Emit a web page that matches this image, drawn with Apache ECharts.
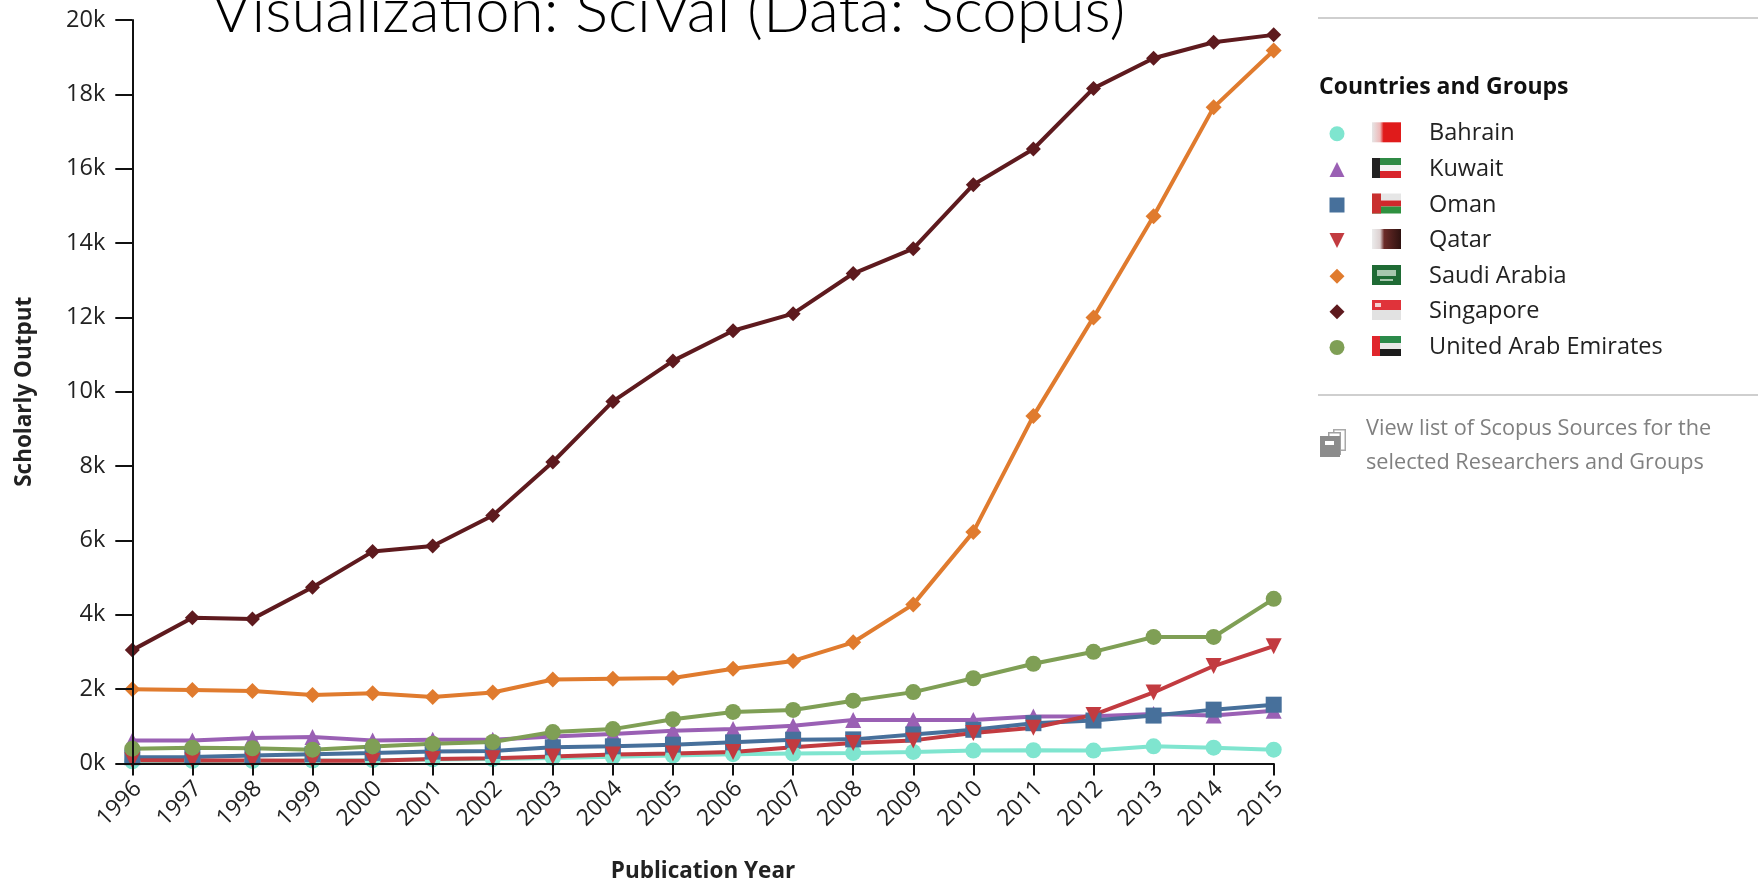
<!DOCTYPE html>
<html><head><meta charset="utf-8">
<style>html,body{margin:0;padding:0;background:#fff}#c{width:1758px;height:880px}</style>
<script src="https://cdn.jsdelivr.net/npm/echarts@6/dist/echarts.min.js"></script>
</head><body><div id="c"></div>
<script>
const years=['1996','1997','1998','1999','2000','2001','2002','2003','2004','2005','2006','2007','2008','2009','2010','2011','2012','2013','2014','2015'];
const bahrain=[60,70,70,80,90,110,120,150,180,215,250,267,284,311,347,356,347,462,427,373];
const kuwait=[622,622,684,711,622,640,640,729,791,880,925,1013,1173,1173,1173,1262,1271,1333,1289,1422];
const oman=[169,178,213,249,284,320,338,436,462,507,569,640,649,782,907,1084,1156,1289,1449,1582];
const qatar=[89,80,80,71,71,124,142,187,240,267,311,436,551,622,818,960,1307,1911,2622,3156];
const saudiArabia=[2000,1980,1950,1840,1890,1790,1910,2260,2280,2300,2550,2760,3260,4280,6230,9350,12000,14720,17650,19180];
const singapore=[3050,3920,3890,4740,5700,5850,6670,8110,9740,10830,11640,12100,13180,13850,15570,16530,18160,18970,19400,19600];
const uae=[400,427,410,373,460,533,578,845,925,1190,1387,1440,1690,1920,2293,2684,3004,3404,3404,4430];
const titleText='Visualization: SciVal (Data: Scopus)';
const F='"Open Sans"';
const defs=[
 ['Bahrain',bahrain,'#7fe5cf','circle',16],
 ['Kuwait',kuwait,'#9a60b4','triangle',16],
 ['Oman',oman,'#47709b','rect',16],
 ['Qatar',qatar,'#c23b40','path://M0,0 L10,0 L5,10 Z',16],
 ['Saudi Arabia',saudiArabia,'#e07b2e','diamond',16],
 ['Singapore',singapore,'#5e1a1e','diamond',15],
 ['United Arab Emirates',uae,'#7f9f55','circle',16]
];
const chart=echarts.init(document.getElementById('c'),null,{renderer:'canvas'});
const fx=1372,fw=29,fh=20;
function r(x,y,w,h,fill){return {type:'rect',silent:true,z:10,shape:{x,y,width:w,height:h},style:{fill}};}
const grad=(...s)=>new echarts.graphic.LinearGradient(0,0,1,0,s.map((c,i)=>({offset:c[0],color:c[1]})));
const rows=[132.3,168,203.5,239,275,310,346].map(v=>v-10);
const flags=[
 r(fx,rows[0],fw,fh,grad([0,'#e6e6e6'],[0.28,'#eeb8b8'],[0.4,'#e01b1b'],[1,'#e01b1b'])),
 r(fx,rows[1],fw,7,'#2f8a45'),r(fx,rows[1]+7,fw,6,'#f2f2f2'),r(fx,rows[1]+13,fw,7,'#d8242b'),r(fx,rows[1],8,fh,'#222'),
 r(fx,rows[2],fw,7,'#e6e6e6'),r(fx,rows[2]+7,fw,6,'#d0282c'),r(fx,rows[2]+13,fw,7,'#2f9140'),r(fx,rows[2],9,fh,'#c9302f'),
 r(fx,rows[3],fw,fh,grad([0,'#ececec'],[0.28,'#dcd0d0'],[0.42,'#6b2b28'],[1,'#2e1210'])),
 r(fx,rows[4],fw,fh,'#1f6b35'),r(fx+5,rows[4]+5,19,6,'#a7c7ae'),r(fx+8,rows[4]+14,13,2,'#a7c7ae'),
 r(fx,rows[5],fw,10,'#e0333a'),r(fx,rows[5]+10,fw,10,'#e2e2e2'),r(fx+3,rows[5]+3,6,4,'#f5d0d0'),
 r(fx,rows[6],fw,7,'#2b8a4a'),r(fx,rows[6]+7,fw,6,'#e8e8e8'),r(fx,rows[6]+13,fw,7,'#1c1c1c'),r(fx,rows[6],8,fh,'#e0262c')
];
const icon=[
 r(1333,429,13,22,'#a9a9a9'),r(1334.5,430.5,10,19,'#fff'),
 r(1328,432,13,23,'#a0a0a0'),r(1329.5,433.5,10,20,'#fff'),
 r(1320,436,20,21,'#8c8c8c'),r(1325,441,9,4,'#fff')
];
const line=y=>({type:'line',silent:true,shape:{x1:1318,y1:y,x2:1758,y2:y},style:{stroke:'#cfcfcf',lineWidth:2}});
const text=(x,y,t,size,weight,fill)=>({type:'text',silent:true,x,y,style:{text:t,font:`${weight} ${size}px ${F}`,fill,textVerticalAlign:'middle'}});
chart.setOption({
 animation:false,
 backgroundColor:'#fff',
 title:{text:titleText,left:211,top:-19,padding:0,textStyle:{fontFamily:'Lato',fontWeight:300,fontSize:61.7,color:'#000'}},
 grid:{left:132.3,top:20,width:1141.4,height:743.5,containLabel:false,outerBoundsMode:'none'},
 legend:{orient:'vertical',left:1329.5,top:121.8,padding:0,itemWidth:15,itemHeight:15,itemGap:11.6,selectedMode:false,
  textStyle:{fontFamily:F,fontSize:23.5,lineHeight:20,color:'#222',padding:[0,0,0,79.5]},
  data:defs.map(d=>({name:d[0],icon:d[3]}))},
 xAxis:{type:'category',data:years,boundaryGap:false,z:5,
  name:'Publication Year',nameLocation:'middle',nameGap:97,nameTextStyle:{fontFamily:F,fontWeight:'bold',fontSize:22.5,color:'#222'},
  axisLine:{lineStyle:{color:'#111',width:2}},axisTick:{alignWithLabel:true,length:12,lineStyle:{color:'#111',width:2}},
  axisLabel:{rotate:45,interval:0,margin:16,verticalAlign:'top',align:'right',lineHeight:16,fontFamily:F,fontSize:23,color:'#222'},splitLine:{show:false}},
 yAxis:{type:'value',min:0,max:20000,interval:2000,z:5,
  name:'Scholarly Output',nameLocation:'middle',nameGap:96.5,nameTextStyle:{fontFamily:F,fontWeight:'bold',fontSize:22.5,color:'#222'},
  axisLine:{show:true,lineStyle:{color:'#111',width:2}},axisTick:{show:true,length:17,lineStyle:{color:'#111',width:2}},
  axisLabel:{margin:27,fontFamily:F,fontSize:23.5,color:'#222',formatter:v=>(v/1000)+'k'},splitLine:{show:false}},
 series:defs.map(d=>({name:d[0],type:'line',data:d[1],symbol:d[3],symbolSize:d[4],showSymbol:true,clip:false,
  lineStyle:{color:d[2],width:4},itemStyle:{color:d[2]},emphasis:{disabled:true}})),
 graphic:{elements:[line(18),line(395),
  text(1319,87,'Countries and Groups',23,'bold','#111'),
  text(1366,428.5,'View list of Scopus Sources for the',21.7,'normal','#808080'),
  text(1366,462.5,'selected Researchers and Groups',21.7,'normal','#808080'),
  ...flags,...icon]}
});
</script></body></html>
